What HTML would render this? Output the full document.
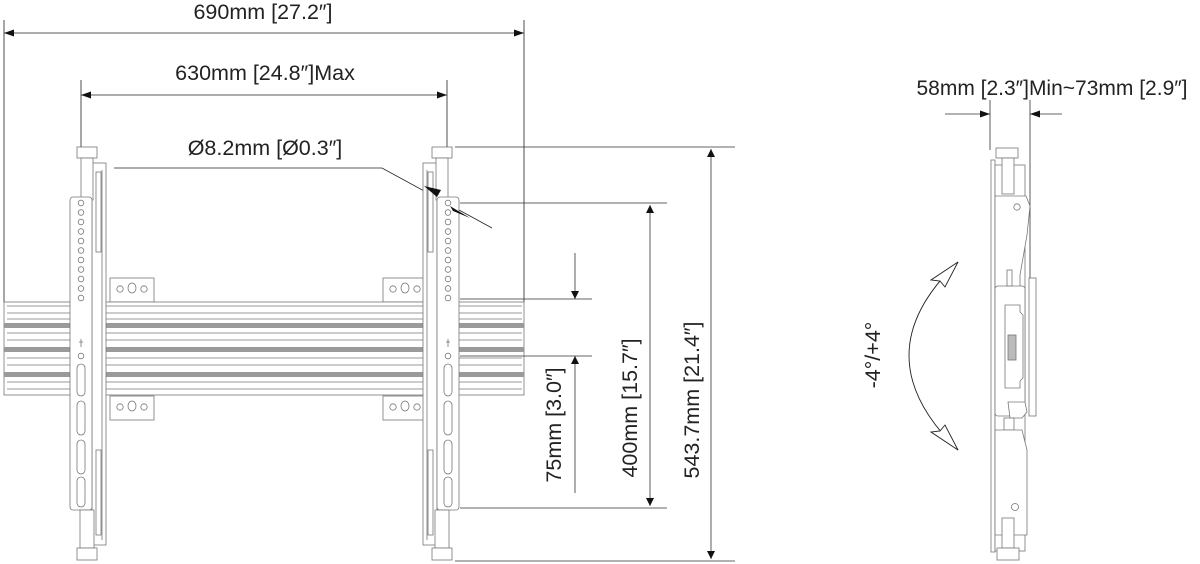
<!DOCTYPE html>
<html><head><meta charset="utf-8"><style>
html,body{margin:0;padding:0;background:#fff}
svg{display:block}
text{font-family:"Liberation Sans",Arial,sans-serif;fill:#222}
</style></head><body>
<svg width="1200" height="564" viewBox="0 0 1200 564" xmlns="http://www.w3.org/2000/svg">
<defs>
<marker id="a" viewBox="0 0 10 10" refX="10" refY="5" markerWidth="10" markerHeight="10" markerUnits="userSpaceOnUse" orient="auto-start-reverse"><path d="M0,1.5 L10,5 L0,8.5 z" fill="#111"/></marker>
<marker id="b" viewBox="0 0 10 10" refX="10" refY="5" markerWidth="8" markerHeight="22" markerUnits="userSpaceOnUse" orient="auto-start-reverse"><path d="M0,0 L10,5 L0,10 z" fill="#111"/></marker>
<g id="tab">
<rect x="0" y="0" width="44" height="24" fill="#fff" stroke="#777" stroke-width="0.8"/>
<circle cx="10" cy="11" r="3.2" fill="none" stroke="#777" stroke-width="0.8"/>
<ellipse cx="22" cy="10" rx="4" ry="5" fill="none" stroke="#777" stroke-width="0.8"/>
<circle cx="34" cy="11" r="3.2" fill="none" stroke="#777" stroke-width="0.8"/>
</g>
<g id="brk" stroke="#777" stroke-width="0.8" fill="#fff">
<rect x="0" y="163" width="14" height="382"/>
<line x1="4" y1="170" x2="4" y2="540"/>
<rect x="5" y="172" width="5" height="80"/>
<rect x="5" y="450" width="5" height="85"/>
<rect x="9" y="147" width="20" height="11"/>
<rect x="13" y="158" width="12" height="42"/>
<rect x="14" y="197" width="22" height="313" rx="3"/>
<g fill="none">
<circle cx="25" cy="203" r="2.8"/><circle cx="25" cy="212.5" r="2.8"/><circle cx="25" cy="222" r="2.8"/><circle cx="25" cy="231.5" r="2.8"/><circle cx="25" cy="241" r="2.8"/><circle cx="25" cy="250.5" r="2.8"/><circle cx="25" cy="260" r="2.8"/><circle cx="25" cy="269.5" r="2.8"/><circle cx="25" cy="279" r="2.8"/><circle cx="25" cy="288.5" r="2.8"/><circle cx="25" cy="298" r="2.8"/>
<line x1="25" y1="339" x2="25" y2="347"/><line x1="23" y1="342" x2="27" y2="342"/>
<circle cx="25" cy="356" r="2.8"/>
<rect x="21" y="364" width="8" height="32" rx="4"/>
<rect x="21" y="401" width="8" height="34" rx="4"/>
<rect x="21" y="440" width="8" height="34" rx="4"/>
<rect x="21" y="477" width="8" height="30" rx="4"/>
</g>
<rect x="12" y="510" width="14" height="38"/>
<rect x="9" y="548" width="20" height="12"/>
</g>
</defs>

<g stroke="#222" stroke-width="0.8" fill="none">
<line x1="4" y1="20" x2="4" y2="302"/><line x1="524" y1="20" x2="524" y2="302"/>
<line x1="4" y1="33" x2="524" y2="33" marker-start="url(#a)" marker-end="url(#a)"/>
<line x1="81" y1="80" x2="81" y2="150"/><line x1="447" y1="80" x2="447" y2="150"/>
<line x1="81" y1="95" x2="447" y2="95" marker-start="url(#a)" marker-end="url(#a)"/>
<polyline points="114,168 382,168 492,228"/>
</g>

<text x="263" y="19" font-size="21.5" text-anchor="middle">690mm [27.2″]</text>
<text x="265" y="80" font-size="21.5" text-anchor="middle">630mm [24.8″]Max</text>
<text x="265" y="155" font-size="21.5" text-anchor="middle">Ø8.2mm [Ø0.3″]</text>

<use href="#tab" x="110" y="278"/><use href="#tab" x="110" y="396"/>
<use href="#tab" x="383" y="278"/><use href="#tab" x="383" y="396"/>

<g stroke="#777" stroke-width="0.8">
<rect x="4" y="302" width="520" height="93" fill="#fff"/>
<line x1="7" y1="306" x2="522" y2="306"/>
<line x1="7" y1="313" x2="522" y2="313"/>
<line x1="7" y1="319" x2="522" y2="319"/>
<line x1="7" y1="333" x2="522" y2="333"/>
<line x1="7" y1="340" x2="522" y2="340"/>
<line x1="7" y1="358" x2="522" y2="358"/>
<line x1="7" y1="365" x2="522" y2="365"/>
<line x1="7" y1="382" x2="522" y2="382"/>
<line x1="7" y1="389" x2="522" y2="389"/>
</g>
<rect x="4" y="323" width="520" height="5" fill="#9a9a9a"/>
<rect x="4" y="347" width="520" height="5" fill="#9a9a9a"/>
<rect x="4" y="372" width="520" height="5" fill="#9a9a9a"/>

<g transform="translate(106,0) scale(-1,1)"><use href="#brk"/></g>
<g transform="translate(423,0)"><use href="#brk"/></g>

<path d="M424,186 L441,190 L437,197 z" fill="#111"/>
<path d="M470,218 L453,211 L450,206 z" fill="#111"/>

<g stroke="#333" stroke-width="0.8" fill="none">
<line x1="455" y1="147" x2="735" y2="147"/><line x1="455" y1="561" x2="735" y2="561"/>
<line x1="711" y1="149" x2="711" y2="559" marker-start="url(#b)" marker-end="url(#b)"/>
<line x1="460" y1="203" x2="667" y2="203"/><line x1="460" y1="508" x2="667" y2="508"/>
<line x1="650" y1="205" x2="650" y2="506" marker-start="url(#b)" marker-end="url(#b)"/>
<line x1="460" y1="299" x2="592" y2="299"/><line x1="460" y1="356" x2="592" y2="356"/>
<line x1="575" y1="253" x2="575" y2="299" marker-end="url(#b)"/>
<line x1="575" y1="493" x2="575" y2="356" marker-end="url(#b)"/>
</g>
<text transform="translate(561,425) rotate(-90)" font-size="21.5" text-anchor="middle">75mm [3.0″]</text>
<text transform="translate(637,408) rotate(-90)" font-size="21.5" text-anchor="middle">400mm [15.7″]</text>
<text transform="translate(699,400) rotate(-90)" font-size="21.5" text-anchor="middle">543.7mm [21.4″]</text>

<text x="1052" y="95" font-size="21" text-anchor="middle">58mm [2.3″]Min~73mm [2.9″]</text>
<g stroke="#333" stroke-width="0.8" fill="none">
<line x1="990" y1="100" x2="990" y2="150"/><line x1="1030" y1="100" x2="1030" y2="280"/>
<line x1="945" y1="114" x2="990" y2="114" marker-end="url(#a)"/>
<line x1="1062" y1="114" x2="1030" y2="114" marker-end="url(#a)"/>
</g>
<g stroke="#777" stroke-width="0.8" fill="#fff">
<rect x="991" y="160" width="4" height="392"/>
<rect x="995" y="165" width="30" height="386"/>
<rect x="996" y="148" width="22" height="10"/>
<rect x="1002" y="158" width="12" height="36"/>
<path d="M995,196 L1026,196 L1030,206 L1027,235 L1020,275 L1020,290 L995,290 z"/>
<rect x="1029" y="278" width="7" height="138"/>
<rect x="995" y="286" width="30" height="130" rx="3"/>
<path d="M1005,305 L1020,305 L1020,312 L1023,315 L1023,378 L1020,381 L1020,388 L1005,388 z"/>
<rect x="1008" y="335" width="8" height="25" fill="#bbb"/>
<rect x="1007" y="270" width="5" height="16"/>
<path d="M1008,402 L1025,402 L1027,412 L1022,418 L1010,418 z"/>
<rect x="1004" y="418" width="10" height="12"/>
<path d="M995,430 L1022,430 L1027,450 L1027,535 L995,535 z"/>
<circle cx="1017" cy="207" r="3.2" fill="none"/>
<circle cx="1015" cy="507" r="3.5" fill="none"/>
<rect x="1002" y="518" width="12" height="30"/>
<rect x="997" y="548" width="22" height="12"/>
</g>
<path d="M958,262 Q860,355 958,450" fill="none" stroke="#222" stroke-width="0.9"/>
<path d="M958,262 L931,280 L940,281 L945,287 z" fill="#fff" stroke="#222" stroke-width="0.9"/>
<path d="M958,450 L931,432 L940,431 L945,425 z" fill="#fff" stroke="#222" stroke-width="0.9"/>
<text transform="translate(880,355) rotate(-90)" font-size="21.5" text-anchor="middle">-4°/+4°</text>
</svg>
</body></html>
